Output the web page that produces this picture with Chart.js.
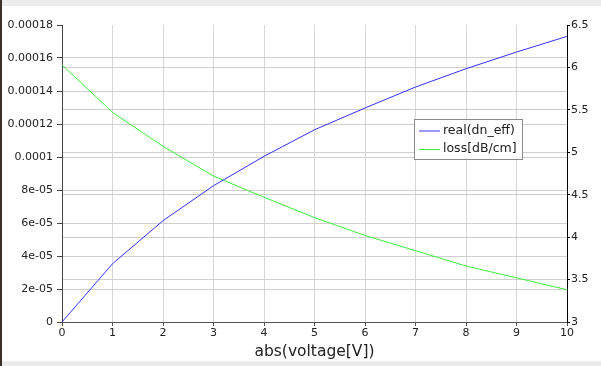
<!DOCTYPE html>
<html>
<head>
<meta charset="utf-8">
<script src="https://cdn.jsdelivr.net/npm/chart.js@4"></script>
<style>
  html, body { margin: 0; padding: 0; background: #fff; }
  canvas { display: block; }
</style>
</head>
<body>
<canvas id="chart" width="601" height="366"></canvas>
<script>
const VOLTAGE = [0, 1, 2, 3, 4, 5, 6, 7, 8, 9, 10]
const DN_EFF = [0, 3.53e-5, 6.14e-5, 8.26e-5, 1.004e-4, 1.165e-4, 1.297e-4, 1.424e-4, 1.535e-4, 1.636e-4, 1.731e-4]
const LOSS = [6.03, 5.47, 5.07, 4.72, 4.47, 4.23, 4.02, 3.84, 3.66, 3.52, 3.38]

const LEFT_TICKS = ['0', '2e-05', '4e-05', '6e-05', '8e-05', '0.0001', '0.00012', '0.00014', '0.00016', '0.00018']
const RIGHT_TICKS = ['3', '3.5', '4', '4.5', '5', '5.5', '6', '6.5']
const X_TICKS = ['0', '1', '2', '3', '4', '5', '6', '7', '8', '9', '10']

const SERIES_LABELS = ['real(dn_eff)', 'loss[dB/cm]']
const X_TITLE = 'abs(voltage[V])'

const FONT = 'DejaVu Sans'

function points(xs, ys) {
    return xs.map((x, i) => ({ x: x, y: ys[i] }))
}

// hide the grid line on the top edge
function gridColor(c) {
    return c.index === c.scale.ticks.length - 1 && c.scale.axis === 'y' ? 'rgba(0,0,0,0)' : '#cfcfcf'
}

const framePlugin = {
    id: 'frame',
    beforeDraw(chart) {
        const ctx = chart.ctx
        ctx.save()
        ctx.fillStyle = '#fff'
        ctx.fillRect(0, 0, chart.width, chart.height)
        ctx.fillStyle = '#ececec'
        ctx.fillRect(0, 0, chart.width, 6)
        ctx.fillRect(0, 361, chart.width, 5)
        ctx.fillStyle = '#3d3029'
        ctx.fillRect(0, 0, 2, chart.height)
        ctx.restore()
    }
}

const legendPlugin = {
    id: 'boxLegend',
    afterDraw(chart) {
        const ctx = chart.ctx
        const a = chart.chartArea
        const x = a.left + 352
        const y = a.top + 94
        ctx.save()
        ctx.fillStyle = '#fff'
        ctx.fillRect(x, y, 108, 40)
        ctx.strokeStyle = '#8a8a8a'
        ctx.lineWidth = 1
        ctx.strokeRect(x + 0.5, y + 0.5, 108, 40)
        ctx.font = '12.5px "' + FONT + '"'
        ctx.textBaseline = 'middle'
        chart.data.datasets.forEach((ds, i) => {
            const ly = y + 11.5 + i * 18.5
            ctx.strokeStyle = ds.borderColor
            ctx.beginPath()
            ctx.moveTo(x + 5, ly + 0.5)
            ctx.lineTo(x + 26, ly + 0.5)
            ctx.stroke()
            ctx.fillStyle = '#222'
            ctx.fillText(ds.label, x + 29, ly)
        })
        ctx.restore()
    }
}

new Chart(document.getElementById('chart'), {
    type: 'line',
    data: {
        datasets: [{
            label: SERIES_LABELS[0],
            data: points(VOLTAGE, DN_EFF),
            yAxisID: 'yLeft',
            borderColor: '#3333ff',
            borderWidth: 1,
            pointRadius: 0,
            tension: 0
        }, {
            label: SERIES_LABELS[1],
            data: points(VOLTAGE, LOSS),
            yAxisID: 'yRight',
            borderColor: '#3fee3f',
            borderWidth: 1,
            pointRadius: 0,
            tension: 0
        }]
    },
    options: {
        responsive: false,
        animation: false,
        layout: { padding: { top: 25, left: 0, right: 0, bottom: 0 } },
        plugins: {
            legend: { display: false },
            tooltip: { enabled: false }
        },
        scales: {
            x: {
                type: 'linear',
                min: 0,
                max: 10,
                afterFit: s => { s.height = 44 },
                ticks: {
                    stepSize: 1,
                    padding: 1,
                    color: '#222',
                    font: { family: FONT, size: 11 },
                    maxRotation: 0,
                    callback: (v, i) => X_TICKS[i]
                },
                grid: { color: '#d6d6d6', tickColor: '#555', tickLength: 4 },
                border: { color: '#555' },
                title: {
                    display: true,
                    text: X_TITLE,
                    color: '#222',
                    font: { family: FONT, size: 15.5 },
                    padding: { top: 1, bottom: 5 }
                }
            },
            yLeft: {
                position: 'left',
                min: 0,
                max: 0.00018,
                afterFit: s => { s.width = 62 },
                ticks: {
                    stepSize: 0.00002,
                    padding: 4,
                    color: '#222',
                    font: { family: FONT, size: 11 },
                    callback: (v, i) => LEFT_TICKS[i]
                },
                grid: { color: gridColor, tickColor: '#444', tickLength: 5 },
                border: { color: '#444' }
            },
            yRight: {
                position: 'right',
                min: 3,
                max: 6.5,
                afterFit: s => { s.width = 34 },
                ticks: {
                    stepSize: 0.5,
                    padding: 1,
                    color: '#222',
                    font: { family: FONT, size: 11 },
                    callback: (v, i) => RIGHT_TICKS[i]
                },
                grid: { color: gridColor, tickColor: '#000', tickLength: 3 },
                border: { color: '#000' }
            }
        }
    },
    plugins: [framePlugin, legendPlugin]
})
</script>
</body>
</html>
